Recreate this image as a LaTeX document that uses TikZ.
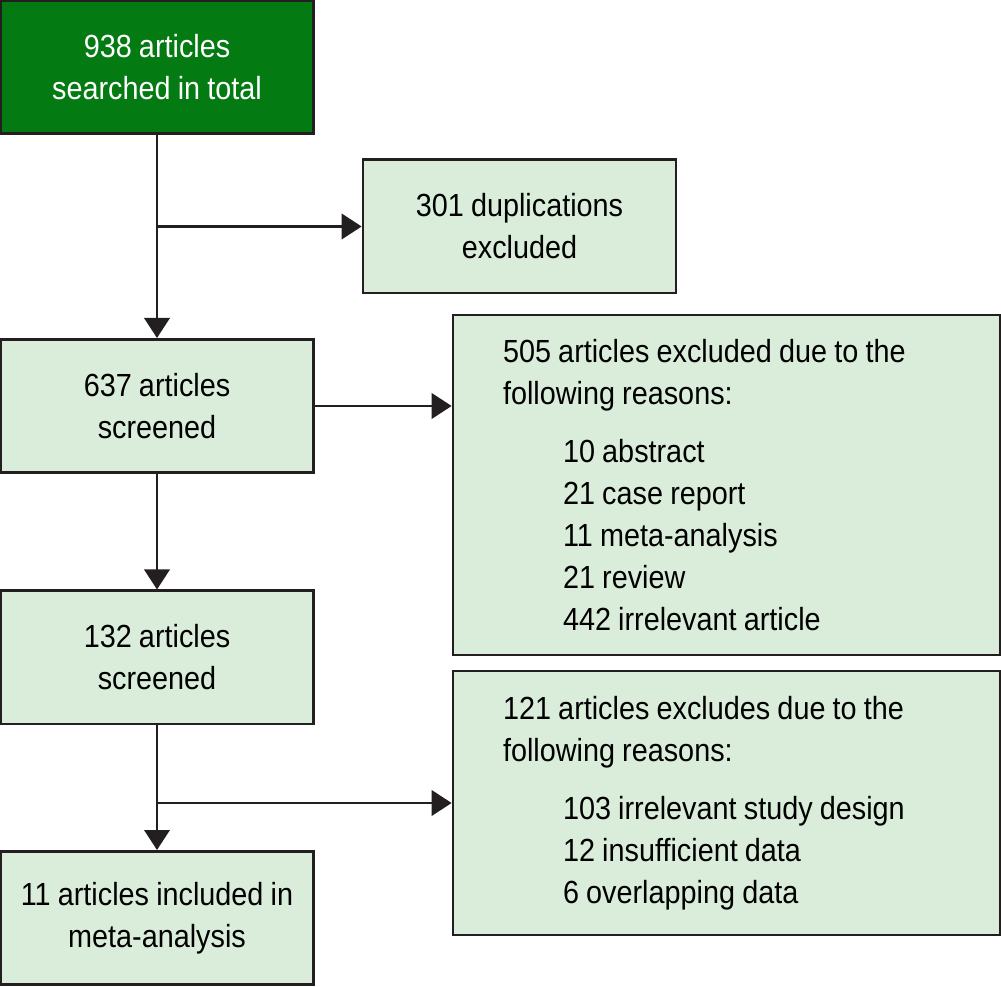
\documentclass[tikz,border=0pt]{standalone}
\usepackage{fontspec}
\setmainfont{Liberation Sans}[FakeStretch=0.9, WordSpace=0.9]
\usetikzlibrary{arrows.meta,positioning}
\definecolor{darkbox}{RGB}{3,122,18}
\definecolor{lightbox}{RGB}{218,237,218}
\definecolor{ink}{RGB}{35,31,32}
\tikzset{
  box/.style={draw=ink, line width=2pt, fill=lightbox, align=center, inner sep=0pt,
    minimum width=234.75pt, minimum height=100pt,
    font=\fontsize{24}{31.5}\selectfont},
  bigbox/.style={box, minimum width=410.25pt, align=flush left,
    text width=372.75pt, inner xsep=0pt},
  arr/.style={-{Triangle[length=15pt,width=19pt]}, line width=2pt, draw=ink, fill=ink}
}
\newcommand{\lead}{\hspace*{18.75pt}}
\newcommand{\reason}{\hspace*{63.75pt}}
\begin{document}
\begin{tikzpicture}[x=0.75pt, y=-0.75pt]
\useasboundingbox (0,0) rectangle (1001,987);

% left column
\node[box, fill=darkbox, text=white] (total) at (157,67) {938 articles\\searched in total};
\node[box] (screen1) at (157,406) {637 articles\\screened};
\node[box] (screen2) at (157,657.5) {132 articles\\screened};
\node[box] (incl) at (157,918) {11 articles included in\\meta-analysis};

% right column
\node[box] (dup) at (519.5,226.5) {301 duplications\\excluded};
\node[bigbox, minimum height=255pt] (excl1) at (726.5,485) {%
  \lead 505 articles excluded due to the\\
  \lead following reasons:\\[12pt]
  \reason 10 abstract\\
  \reason 21 case report\\
  \reason 11 meta-analysis\\
  \reason 21 review\\
  \reason 442 irrelevant article};
\node[bigbox, minimum height=198pt] (excl2) at (726.5,803) {%
  \lead 121 articles excludes due to the\\
  \lead following reasons:\\[12pt]
  \reason 103 irrelevant study design\\
  \reason 12 insufficient data\\
  \reason 6 overlapping data};

% connectors
\draw[arr] (total) -- (screen1);
\draw[arr] (total.south |- dup.west) -- (dup.west);
\draw[arr] (screen1.east) -- (screen1.east -| excl1.west);
\draw[arr] (screen1) -- (screen2);
\draw[arr] (screen2) -- (incl);
\draw[arr] (screen2.south |- excl2.west) -- (excl2.west);
\end{tikzpicture}
\end{document}
